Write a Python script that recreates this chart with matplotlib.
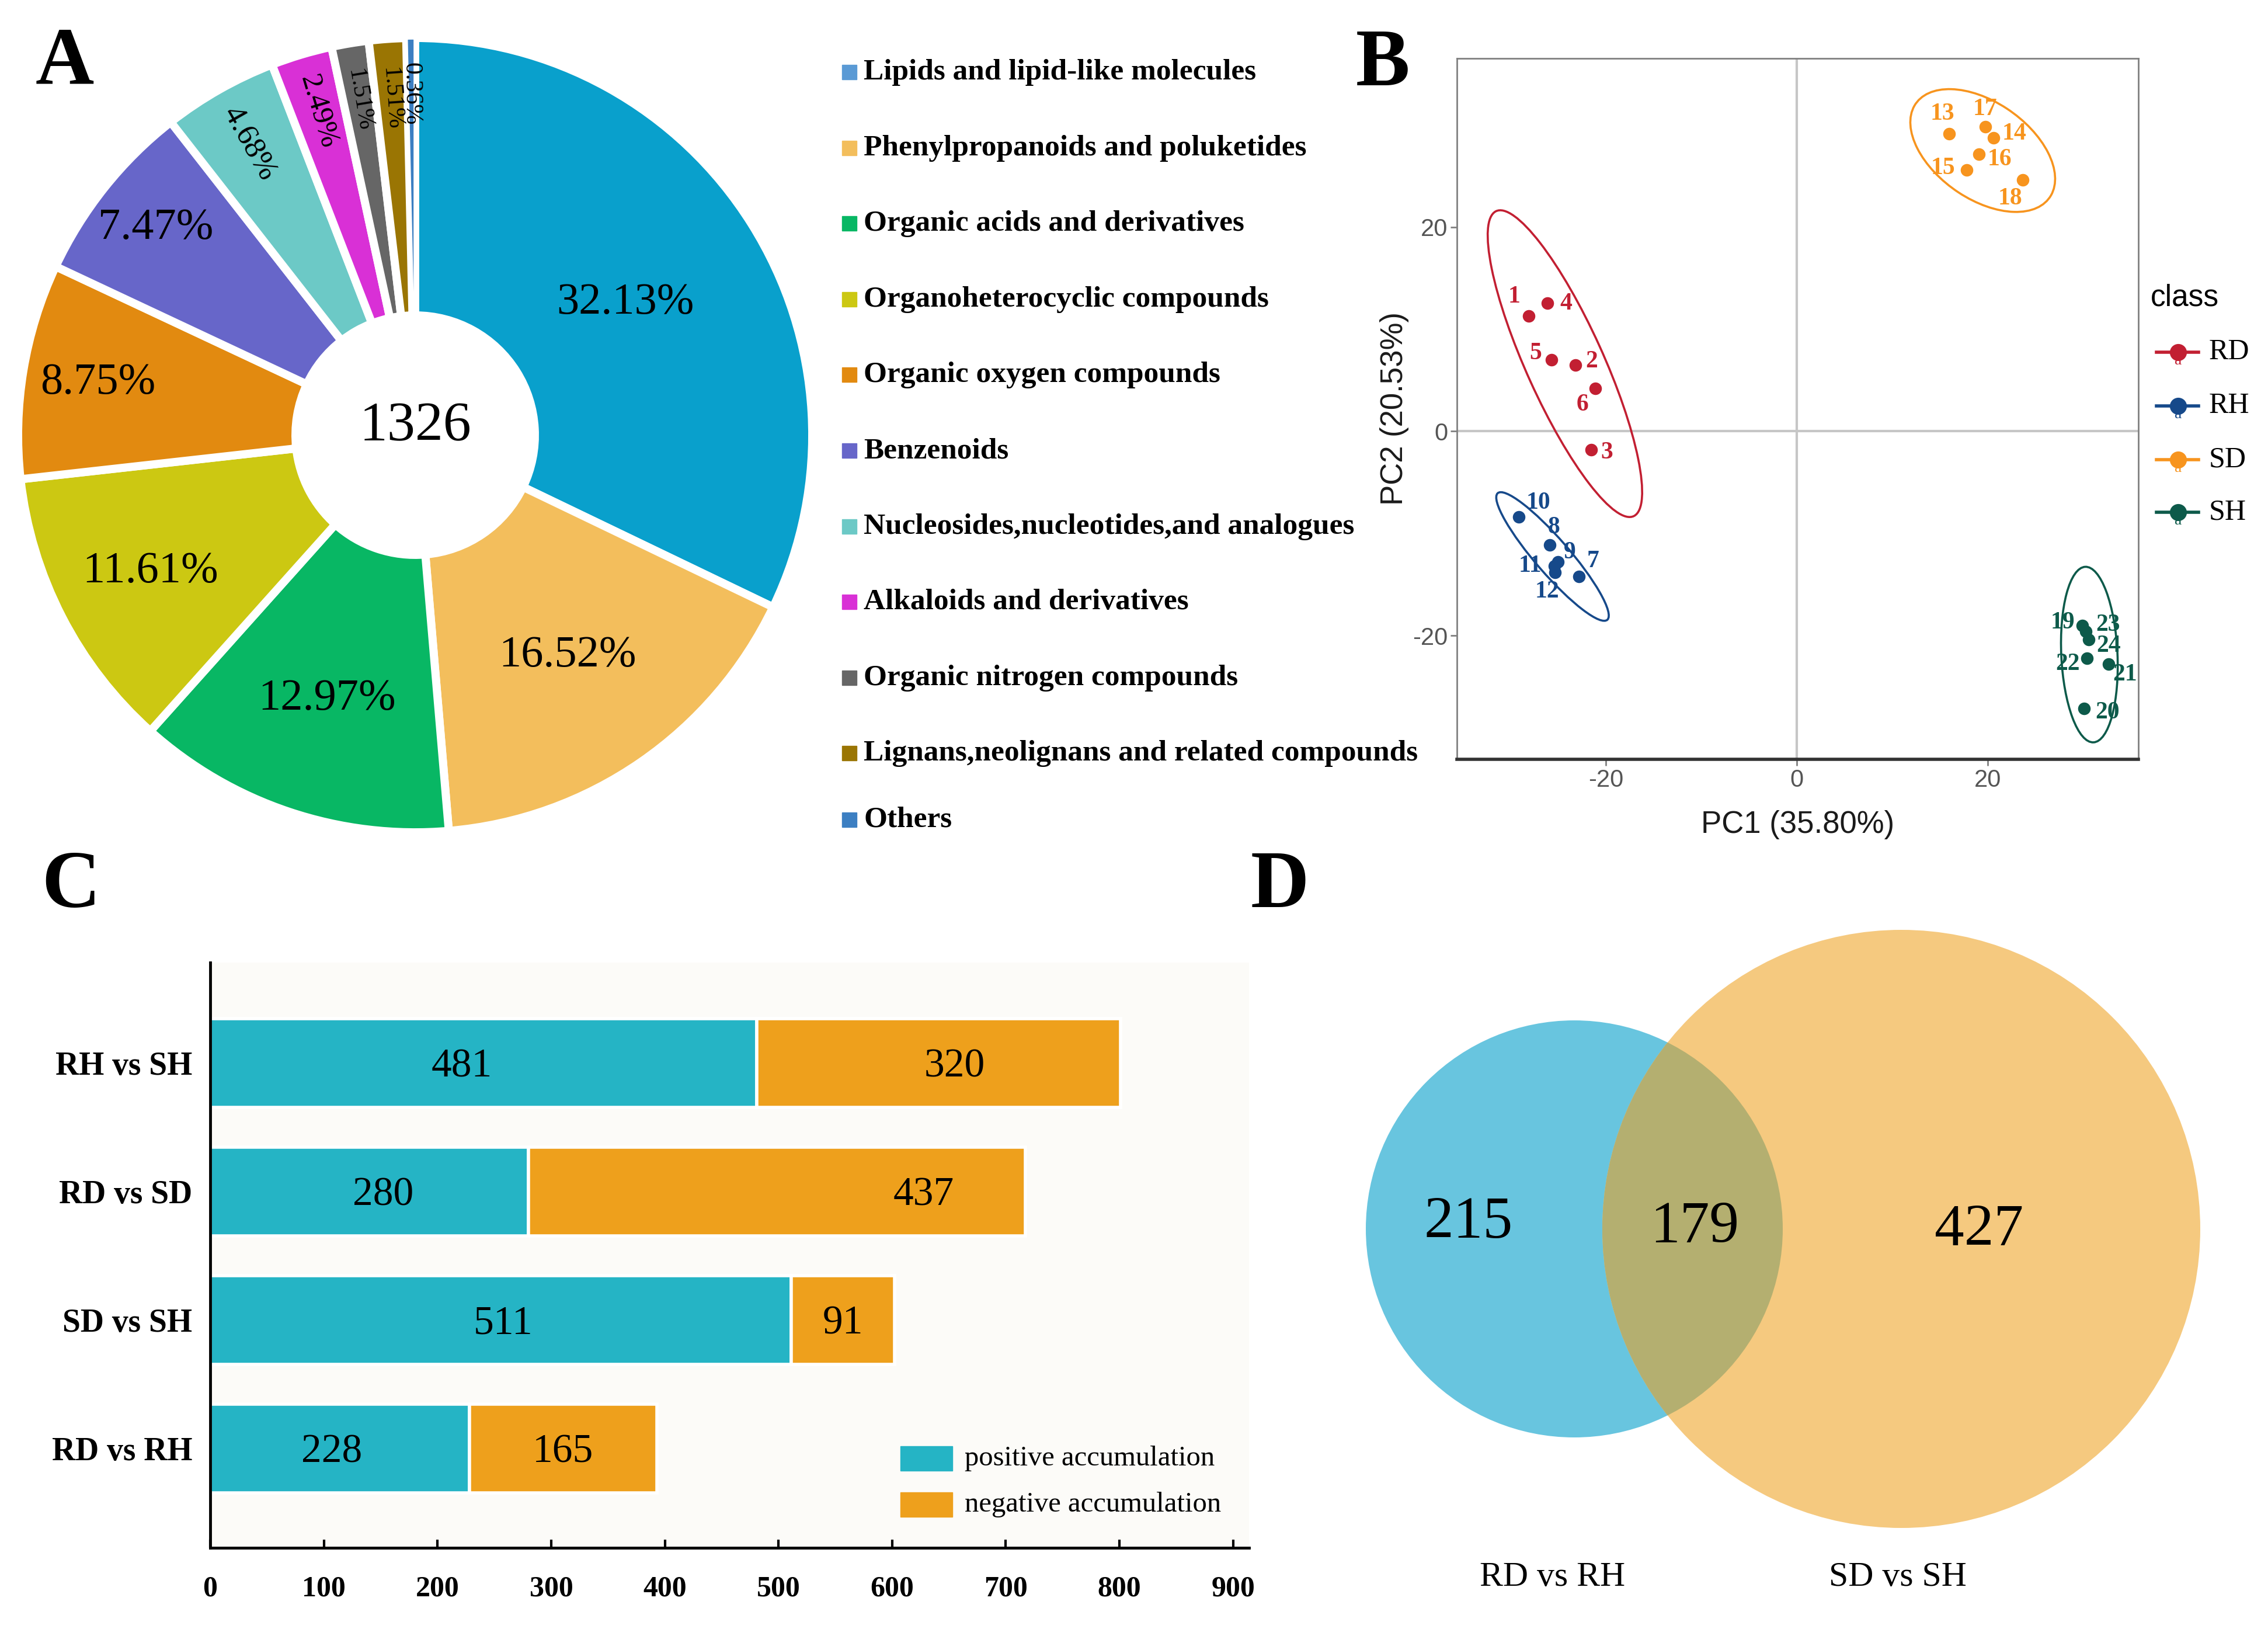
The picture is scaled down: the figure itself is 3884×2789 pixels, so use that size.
import numpy as np
import matplotlib
matplotlib.use("Agg")
import matplotlib.pyplot as plt
from matplotlib.patches import Rectangle, Circle, Ellipse
from matplotlib.lines import Line2D

SERIF = "Liberation Serif"
SANS = "Liberation Sans"
plt.rcParams["axes.unicode_minus"] = False

# ---------------- A: metabolite classes ----------------
classes = ["Lipids and lipid-like molecules", "Phenylpropanoids and poluketides",
           "Organic acids and derivatives", "Organoheterocyclic compounds",
           "Organic oxygen compounds", "Benzenoids",
           "Nucleosides,nucleotides,and analogues", "Alkaloids and derivatives",
           "Organic nitrogen compounds", "Lignans,neolignans and related compounds", "Others"]
percents = [32.13, 16.52, 12.97, 11.61, 8.75, 7.47, 4.68, 2.49, 1.51, 1.51, 0.36]
total_metabolites = 1326
pie_colors = ["#09A0CC", "#F3BE5C", "#08B764", "#CCC812", "#E28A10", "#6766C9",
              "#6CC9C6", "#D930D6", "#666666", "#9A7503", "#3C7FC2"]
legend_colors = ["#5A9AD5"] + pie_colors[1:]

# ---------------- B: PCA scores ----------------
groups = ["RD", "RH", "SD", "SH"]
group_colors = ["#C21F32", "#16498A", "#F7941E", "#0D5A4A"]
sample_ids = [[1, 2, 3, 4, 5, 6], [7, 8, 9, 10, 11, 12],
              [13, 14, 15, 16, 17, 18], [19, 20, 21, 22, 23, 24]]
pc1 = [[-28.1, -23.2, -21.5, -26.1, -25.7, -21.1],
       [-22.8, -25.9, -25.0, -29.1, -25.4, -25.3],
       [16.0, 20.6, 17.8, 19.1, 19.75, 23.7],
       [29.9, 30.1, 32.7, 30.4, 30.3, 30.6]]
pc2 = [[11.3, 6.5, -1.8, 12.55, 7.0, 4.2],
       [-14.2, -11.1, -12.8, -8.4, -13.2, -13.8],
       [29.1, 28.7, 25.6, 27.1, 29.8, 24.6],
       [-19.0, -27.1, -22.8, -22.2, -19.6, -20.4]]

# ---------------- C: differential metabolites ----------------
comparisons = ["RD vs RH", "SD vs SH", "RD vs SD", "RH vs SH"]
positive = [228, 511, 280, 481]
negative = [165, 91, 437, 320]

# ---------------- D: venn ----------------
venn_sets = ["RD vs RH", "SD vs SH"]
venn_counts = [215, 179, 427]

W, H = 3884, 2789
fig = plt.figure(figsize=(W / 100, H / 100), dpi=100)
fig.patch.set_facecolor("white")


def px_axes(x0, y0, x1, y1):
    return fig.add_axes([x0 / W, 1 - y1 / H, (x1 - x0) / W, (y1 - y0) / H])


def fx(x):
    return x / W


def fy(y):
    return 1 - y / H


# panel letters
for letter, (lx, ly) in zip("ABCD", [(111, 110), (2368, 112), (121, 1520), (2192, 1520)]):
    fig.text(fx(lx), fy(ly), letter, fontsize=100, fontweight="bold", family=SERIF,
             ha="center", va="center")

# ---------------- A ----------------
axA = px_axes(11, 45, 1411, 1445)
R = 680 / 700
wedges, _ = axA.pie(percents, colors=pie_colors, startangle=90, counterclock=False, radius=R,
                    labeldistance=None,
                    wedgeprops=dict(width=R - 205 / 700, edgecolor="white", linewidth=10,
                                    joinstyle="round"))
# the tiny last slice would vanish under the white gaps
wedges[-1].set_linewidth(4)
axA.set_xlim(-1, 1)
axA.set_ylim(-1, 1)
axA.set_aspect("equal")
axA.axis("off")

label_r = [0.625, 0.675, 0.70, 0.75, 0.81, 0.835, 0.845, 0.85, 0.855, 0.85, 0.86]
label_fs = [55, 55, 55, 55, 55, 55, 38, 36, 30, 30, 30]
for w, pct, rf, fs in zip(wedges, percents, label_r, label_fs):
    mid = np.deg2rad((w.theta1 + w.theta2) / 2)
    rot = 0 if pct > 5 else np.rad2deg(mid) - 180
    axA.text(rf * R * np.cos(mid), rf * R * np.sin(mid), f"{pct:.2f}%", rotation=rot,
             rotation_mode="anchor", ha="center", va="center", fontsize=fs, family=SERIF)
axA.text(0, 0.02, str(total_metabolites), ha="center", va="center", fontsize=69, family=SERIF)

# legend of A
baselines = [136 + i * 129.6 for i in range(10)] + [1416]
for name, col, yb in zip(classes, legend_colors, baselines):
    fig.patches.append(Rectangle((fx(1442), fy(yb)), 25 / W, 25 / H, color=col,
                                 transform=fig.transFigure))
    fig.text(fx(1479), fy(yb), name, fontsize=37, fontweight="bold", family=SERIF,
             ha="left", va="baseline")

# ---------------- B ----------------
axB = px_axes(2495, 100, 3662, 1300)
axB.axhline(0, color="#C6C6C6", lw=3, zorder=0)
axB.axvline(0, color="#C6C6C6", lw=3, zorder=0)
offsets = {1: (-25, 33), 2: (28, 6), 3: (26, -5), 4: (32, -1), 5: (-27, 11), 6: (-22, -28),
           7: (24, 26), 8: (7, 30), 9: (20, 16), 10: (33, 24), 11: (-41, 0), 12: (-14, -33),
           13: (-12, 34), 14: (36, 7), 15: (-40, 3), 16: (35, -9), 17: (0, 30), 18: (-22, -32),
           19: (-33, 5), 20: (40, -7), 21: (28, -18), 22: (-33, -10), 23: (38, 11), 24: (34, -11)}
ELLIPSE_K = 2.9  # approx. robust 95% t-ellipse scale for n=6
for g, col, ids, xs, ys in zip(groups, group_colors, sample_ids, pc1, pc2):
    xs = np.array(xs)
    ys = np.array(ys)
    axB.scatter(xs, ys, s=240, color=col, zorder=3, linewidths=0)
    cov = np.cov(xs, ys)
    vals, vecs = np.linalg.eigh(cov)
    ang = np.degrees(np.arctan2(vecs[1, 1], vecs[0, 1]))
    axB.add_patch(Ellipse((xs.mean(), ys.mean()), 2 * ELLIPSE_K * np.sqrt(vals[1]),
                          2 * ELLIPSE_K * np.sqrt(vals[0]), angle=ang, fill=False,
                          edgecolor=col, lw=2.6, zorder=2))
    for sid, x, y in zip(ids, xs, ys):
        axB.annotate(str(sid), (x, y), xytext=offsets[sid], textcoords="offset pixels",
                     ha="center", va="center", color=col, fontsize=30, fontweight="bold",
                     family=SERIF, zorder=4)
axB.set_xlim(-35.6, 35.8)
axB.set_ylim(-32.1, 36.5)
axB.set_xticks([-20, 0, 20])
axB.set_yticks([-20, 0, 20])
for s in ["left", "top", "right"]:
    axB.spines[s].set_color("#808080")
    axB.spines[s].set_linewidth(2)
axB.spines["bottom"].set_color("#333333")
axB.spines["bottom"].set_linewidth(4)
axB.tick_params(length=8, width=2, color="#808080", labelsize=30, labelcolor="#555555")
for t in axB.get_xticklabels() + axB.get_yticklabels():
    t.set_family(SANS)
axB.set_xlabel("PC1 (35.80%)", fontsize=38, family=SANS, color="#1a1a1a", labelpad=22)
axB.set_ylabel("PC2 (20.53%)", fontsize=38, family=SANS, color="#1a1a1a", labelpad=4)

# legend of B
fig.text(fx(3683), fy(510), "class", fontsize=37, family=SANS, ha="left", va="center")
for col, g, yk in zip(group_colors, groups, [603, 695, 787, 877]):
    fig.lines.append(Line2D([fx(3693), fx(3765)], [fy(yk), fy(yk)], color=col, lw=4,
                            transform=fig.transFigure))
    fig.lines.append(Line2D([fx(3730)], [fy(yk)], marker="o", markersize=20, color=col,
                            transform=fig.transFigure))
    fig.text(fx(3730), fy(yk + 15), "a", color=col, fontsize=20, family=SERIF,
             ha="center", va="center")
    fig.text(fx(3783), fy(yk), g, fontsize=36, family=SERIF, ha="left", va="center")

# ---------------- C ----------------
axC = px_axes(360, 1648, 2139, 2650)
axC.set_facecolor("#FCFBF8")
yy = np.arange(len(comparisons))
bp = axC.barh(yy, positive, height=0.69, color="#25B4C5", edgecolor="white", lw=4)
bn = axC.barh(yy, negative, left=positive, height=0.69, color="#EEA01C", edgecolor="white", lw=4)
label_shift = [[-7, 0], [2, 0], [12, 129], [-19, 14]]
for i in range(len(comparisons)):
    axC.text(positive[i] / 2 + label_shift[i][0], yy[i] - 0.03, str(positive[i]), ha="center",
             va="center", fontsize=50, family=SERIF)
    axC.text(positive[i] + negative[i] / 2 + label_shift[i][1], yy[i] - 0.03, str(negative[i]),
             ha="center", va="center", fontsize=50, family=SERIF)
axC.set_xlim(0, 914)
axC.set_ylim(-0.77, 3.78)
axC.set_xticks(range(0, 1000, 100))
axC.set_yticks(yy)
axC.set_yticklabels(comparisons)
axC.spines["top"].set_visible(False)
axC.spines["right"].set_visible(False)
axC.spines["left"].set_linewidth(3.5)
axC.spines["bottom"].set_linewidth(3.5)
axC.tick_params(axis="x", direction="in", length=10, width=3, labelsize=36, pad=34)
axC.tick_params(axis="y", length=0, labelsize=40, pad=22)
for t in axC.get_xticklabels() + axC.get_yticklabels():
    t.set_family(SERIF)
    t.set_fontweight("bold")

for col, txt, yc in zip(["#25B4C5", "#EEA01C"], ["positive accumulation", "negative accumulation"],
                        [2497, 2576]):
    fig.patches.append(Rectangle((fx(1542), fy(yc + 21)), 89 / W, 42 / H, color=col,
                                 transform=fig.transFigure))
    fig.text(fx(1652), fy(yc), txt, fontsize=35, family=SERIF, ha="left", va="center")

# ---------------- D ----------------
axD = px_axes(2150, 1450, 3884, 2789)
axD.set_xlim(2150, 3884)
axD.set_ylim(2789, 1450)
axD.axis("off")
c1 = Circle((2696, 2104), 357, color="#68C5DF", lw=0)
c2 = Circle((3256, 2104), 512, color="#F5C97F", lw=0)
axD.add_patch(c1)
axD.add_patch(c2)
ov = Circle((3256, 2104), 512, color="#B4AF70", lw=0)
axD.add_patch(ov)
ov.set_clip_path(c1)
for cnt, (tx, ty) in zip(venn_counts, [(2515, 2095), (2902, 2103), (3389, 2108)]):
    axD.text(tx, ty, str(cnt), fontsize=73, family=SERIF, ha="center", va="center")
for name, tx in zip(venn_sets, [2659, 3250]):
    axD.text(tx, 2701, name, fontsize=43, family=SERIF, ha="center", va="center")

fig.savefig("out.png", dpi=100)
